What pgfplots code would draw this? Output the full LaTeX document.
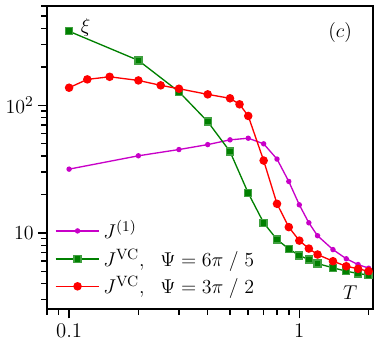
\documentclass[border=0pt]{standalone}
\usepackage{pgfplots}
\pgfplotsset{compat=1.18}
\definecolor{cmag}{RGB}{200,0,200}
\definecolor{cgreen}{RGB}{0,128,0}
\definecolor{cred}{RGB}{255,0,0}
\begin{document}
\begin{tikzpicture}
\begin{axis}[
    xmode=log, ymode=log,
    width=196.2pt, height=182.4pt, scale only axis,
    xmin=0.08, xmax=2.09, ymin=2.52, ymax=600,
    xtick={0.1,1}, xticklabels={0.1,1},
    ytick={10,100}, yticklabels={$10$,$10^2$},
    minor xtick={0.08,0.09,0.2,0.3,0.4,0.5,0.6,0.7,0.8,0.9,2},
    minor ytick={3,4,5,6,7,8,9,20,30,40,50,60,70,80,90,200,300,400,500,600},
    xtick pos=bottom, ytick pos=left,
    tick align=outside,
    major tick length=5.4pt, minor tick length=3.3pt,
    every tick/.style={black, line width=0.9pt},
    axis line style={line width=1.45pt},
    font=\fontsize{12.5}{15}\selectfont,
    yticklabel style={xshift=1pt},
    clip=false,
    legend style={at={(rel axis cs:0.024,0.305)}, anchor=north west,
        draw=none, fill=none, inner sep=0pt, row sep=0.5pt,
        font=\fontsize{12.5}{15}\selectfont},
    legend cell align=left,
    legend image code/.code={\draw[mark repeat=2,mark phase=2]
        plot coordinates {(0pt,0pt) (13.2pt,0pt) (26.4pt,0pt)};},
]
\addplot[cmag, line width=0.8pt, mark=*, mark size=1.2pt] coordinates {
(0.1,31.6) (0.2,40.2) (0.3,45.0) (0.4,49.2) (0.5,53.6) (0.6,55.2)
(0.7,49.9) (0.8,37.9) (0.9,25.3) (1.0,16.6) (1.1,12.0) (1.2,9.5)
(1.4,7.4) (1.6,6.27) (1.8,5.65) (2.0,5.29)};
\addlegendentry{$J^{(1)}$}
\addplot[cgreen, line width=0.8pt, mark=square*, mark size=2.1pt,
    mark options={draw=cgreen!75!white, fill=cgreen}] coordinates {
(0.1,380) (0.2,224.7) (0.3,127.7) (0.4,74.5) (0.5,43.4) (0.6,20.5)
(0.7,12.0) (0.8,8.87) (0.9,7.5) (1.0,6.65) (1.1,6.18) (1.2,5.75)
(1.4,5.33) (1.6,5.01) (1.8,4.81) (2.0,4.67)};
\addlegendentry{$J^{\mathrm{VC}},\hspace{0.6em}\Psi=6\pi\;/\;5$}
\addplot[cred, line width=0.8pt, mark=*, mark size=2.15pt] coordinates {
(0.1,137.3) (0.12,159.6) (0.15,167.2) (0.2,156.6) (0.25,143.3) (0.3,134.8)
(0.4,121.8) (0.5,113.4) (0.55,101.8) (0.6,82.5) (0.7,36.9) (0.8,16.9)
(0.9,11.1) (1.0,8.7) (1.1,7.54) (1.2,6.77) (1.4,6.0) (1.6,5.48)
(1.8,5.23) (2.0,5.01)};
\addlegendentry{$J^{\mathrm{VC}},\hspace{0.6em}\Psi=3\pi\;/\;2$}
\node at (rel axis cs:0.119,0.928) {$\xi$};
\node at (rel axis cs:0.899,0.911) {$(c)$};
\node at (rel axis cs:0.930,0.056) {$T$};
\end{axis}
\path (current axis.north east) ++(7.2pt,3.6pt);
\path (current axis.south west) ++(-27.6pt,-21pt);
\end{tikzpicture}
\end{document}
